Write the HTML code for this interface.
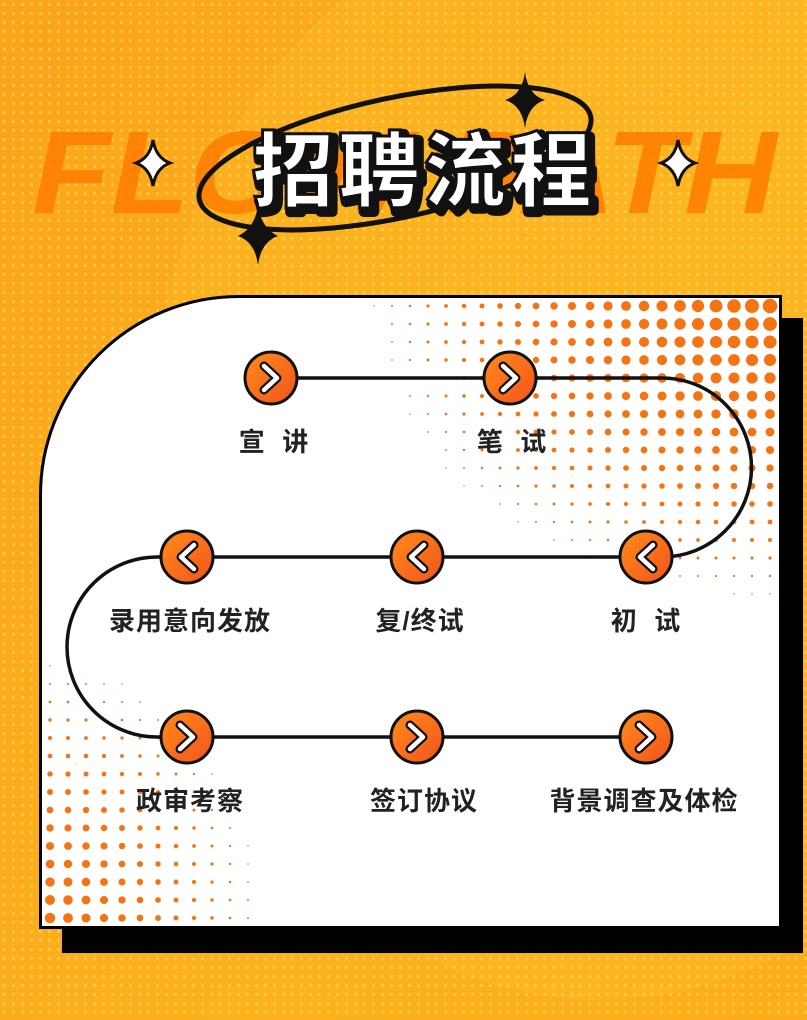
<!DOCTYPE html>
<html><head><meta charset="utf-8"><style>
html,body{margin:0;padding:0;width:807px;height:1020px;overflow:hidden}
body{font-family:"Liberation Sans","Noto Sans CJK SC",sans-serif;}
#wrap{position:absolute;left:0;top:0;width:807px;height:1020px;overflow:hidden;
background:linear-gradient(120deg,#fba51a 0%,#fbb21c 60%,#fcae1a 100%);}
.bgdots{position:absolute;inset:0;background-image:radial-gradient(circle,rgba(255,225,120,.55) 1.3px,transparent 1.8px);background-size:9px 9px}
.lite{position:absolute;left:150px;top:-100px;width:900px;height:1100px;border-radius:50%;background:rgba(255,190,40,.35)}
.shadow{position:absolute;left:62px;top:318px;width:741px;height:635px;background:#000;border-top-left-radius:200px}
.card{position:absolute;left:39px;top:295px;width:737px;height:628px;background:#fff;border:3px solid #000;border-top-left-radius:200px;overflow:hidden}
.lbl{position:absolute;font-size:26px;font-weight:bold;color:#222;transform:translateX(-50%);white-space:nowrap;letter-spacing:1px}
</style></head><body>
<div id="wrap">
<div class="lite"></div>
<div class="bgdots"></div>
<svg width="807" height="300" style="position:absolute;left:0;top:0">
<text x="32" y="213" font-family="Liberation Sans" font-weight="bold" font-style="italic" font-size="118" fill="#ff7d00" opacity=".85" textLength="745" lengthAdjust="spacingAndGlyphs">FLOW PATH</text>
<ellipse cx="395" cy="158" rx="200" ry="60" fill="none" stroke="#111" stroke-width="5" transform="rotate(-12 395 158)"/>
<path d="M525 72 Q528 95 545 100 Q528 105 525 128 Q522 105 505 100 Q522 95 525 72Z" fill="#111"/>
<path d="M258 205 Q261 228 278 236 Q261 242 258 265 Q255 242 238 236 Q255 228 258 205Z" fill="#111"/>
<path d="M153 140 Q156 158 170 163 Q156 168 153 186 Q150 168 136 163 Q150 158 153 140Z" fill="#fff" stroke="#111" stroke-width="3"/>
<path d="M678 140 Q681 158 695 163 Q681 168 678 186 Q675 168 661 163 Q675 158 678 140Z" fill="#fff" stroke="#111" stroke-width="3"/>
<text x="424" y="200" text-anchor="middle" font-family="Noto Sans CJK SC,sans-serif" font-weight="900" font-size="82" fill="#111" stroke="#111" stroke-width="10" stroke-linejoin="round" letter-spacing="4" transform="translate(4,4)">招聘流程</text>
<text x="424" y="200" text-anchor="middle" font-family="Noto Sans CJK SC,sans-serif" font-weight="900" font-size="82" fill="#fff" stroke="#111" stroke-width="3" letter-spacing="4">招聘流程</text>
</svg>
<div class="shadow"></div>
<div class="card">
<svg id="dots" width="737" height="628" style="position:absolute;left:0;top:0"></svg>
</div>
<svg width="807" height="1020" style="position:absolute;left:0;top:0">
<defs><linearGradient id="cg" x1="0" y1="0" x2="1" y2="1"><stop offset="0" stop-color="#ff8c1a"/><stop offset="1" stop-color="#f2531c"/></linearGradient></defs>
<g fill="none" stroke="#111" stroke-width="3.5">
<path d="M271 378 H662 A89.5 89.5 0 0 1 662 557 H157 A90 90 0 0 0 157 737 H646"/>
</g>
<g stroke="#111" stroke-width="3" fill="url(#cg)">
<circle cx="271" cy="378" r="26"/><circle cx="510" cy="378" r="26"/>
<circle cx="187" cy="557" r="26"/><circle cx="417" cy="557" r="26"/><circle cx="646" cy="557" r="26"/>
<circle cx="187" cy="737" r="26"/><circle cx="417" cy="737" r="26"/><circle cx="646" cy="737" r="26"/>
</g>
<g fill="none" stroke-linecap="round" stroke-linejoin="round">
<g stroke="#111" stroke-width="9">
<path d="M264 366 L277 378 L264 390"/><path d="M503 366 L516 378 L503 390"/>
<path d="M194 545 L181 557 L194 569"/><path d="M424 545 L411 557 L424 569"/><path d="M653 545 L640 557 L653 569"/>
<path d="M180 725 L193 737 L180 749"/><path d="M410 725 L423 737 L410 749"/><path d="M639 725 L652 737 L639 749"/>
</g>
<g stroke="#fff" stroke-width="4.5">
<path d="M264 366 L277 378 L264 390"/><path d="M503 366 L516 378 L503 390"/>
<path d="M194 545 L181 557 L194 569"/><path d="M424 545 L411 557 L424 569"/><path d="M653 545 L640 557 L653 569"/>
<path d="M180 725 L193 737 L180 749"/><path d="M410 725 L423 737 L410 749"/><path d="M639 725 L652 737 L639 749"/>
</g></g>
</svg>
<div class="lbl" style="left:274px;top:422px">宣&nbsp;&nbsp;讲</div>
<div class="lbl" style="left:512px;top:422px">笔&nbsp;&nbsp;试</div>
<div class="lbl" style="left:190px;top:601px">录用意向发放</div>
<div class="lbl" style="left:420px;top:601px">复/终试</div>
<div class="lbl" style="left:646px;top:601px">初&nbsp;&nbsp;试</div>
<div class="lbl" style="left:190px;top:781px">政审考察</div>
<div class="lbl" style="left:424px;top:781px">签订协议</div>
<div class="lbl" style="left:644px;top:781px">背景调查及体检</div>
</div>
<script>
(function(){
var s=document.getElementById('dots'),h='';
for(var y=8;y<628;y+=18){for(var x=8;x<737;x+=18){
 var d1=Math.hypot((737-x)*0.85,y*1.15);
 var r1=7.5*(1-d1/380);
 var d2=Math.hypot(x*1.2,(628-y)*1.0);
 var r2=5.5*(1-d2/300);
 var r=Math.max(r1,r2);
 if(r>0.7)h+='<circle cx="'+x+'" cy="'+y+'" r="'+r.toFixed(2)+'" fill="#f47414"/>';
}}
s.innerHTML=h;
})();
</script>
</body></html>
